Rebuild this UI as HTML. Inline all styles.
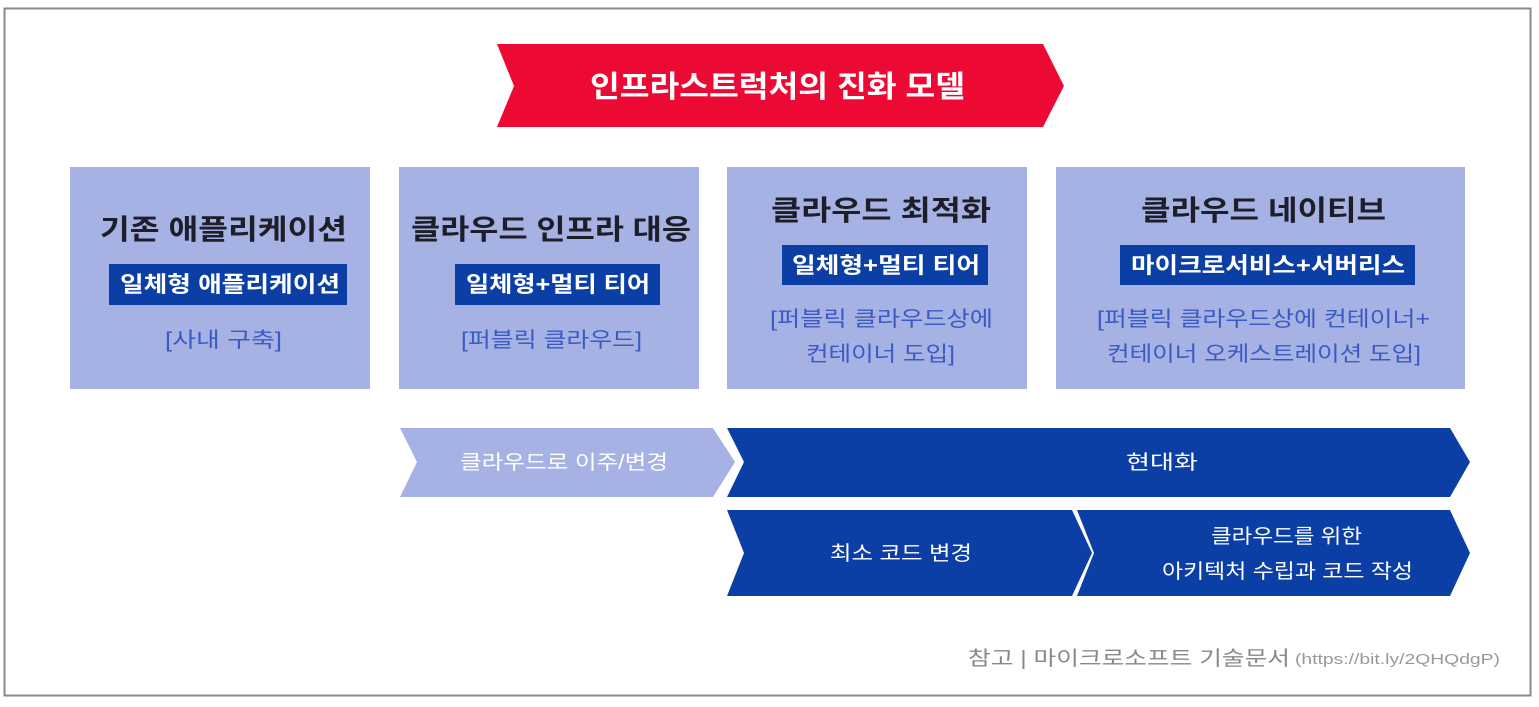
<!DOCTYPE html>
<html><head><meta charset="utf-8"><style>
html,body{margin:0;padding:0;background:#fff;}
svg{display:block;}
text{font-family:"Liberation Sans","Noto Sans CJK KR","NanumGothic",sans-serif;}
</style></head><body>
<svg width="1539" height="707" viewBox="0 0 1539 707" xmlns="http://www.w3.org/2000/svg">
<rect x="0" y="0" width="1539" height="707" fill="#fff"/>
<rect x="4.5" y="8.5" width="1526" height="687" fill="#fff" stroke="#8a8a8a" stroke-width="2"/>
<polygon points="497,44 1043,44 1064,86 1043,127 497,127 514,86" fill="#ec0a35"/>
<text x="590" y="97" font-size="30" font-weight="bold" fill="#fff" textLength="375" lengthAdjust="spacingAndGlyphs">인프라스트럭처의 진화 모델</text>

<g fill="#a6b1e4">
<rect x="70" y="167" width="300" height="222"/>
<rect x="399" y="167" width="300" height="222"/>
<rect x="727" y="167" width="300" height="222"/>
<rect x="1056" y="167" width="409" height="222"/>
</g>
<g font-size="28" font-weight="bold" fill="#1e1e28" lengthAdjust="spacingAndGlyphs">
<text x="100" y="239" textLength="247" lengthAdjust="spacingAndGlyphs">기존 애플리케이션</text>
<text x="411" y="239" textLength="280" lengthAdjust="spacingAndGlyphs">클라우드 인프라 대응</text>
<text x="771" y="220" textLength="220" lengthAdjust="spacingAndGlyphs">클라우드 최적화</text>
<text x="1141" y="220" textLength="245" lengthAdjust="spacingAndGlyphs">클라우드 네이티브</text>
</g>
<g fill="#0b3fa6">
<rect x="109" y="264" width="238" height="41"/>
<rect x="455" y="264" width="205" height="41"/>
<rect x="782" y="245" width="206" height="40"/>
<rect x="1120" y="245" width="295" height="40"/>
</g>
<g font-size="22" font-weight="bold" fill="#fff">
<text x="120" y="292" textLength="220" lengthAdjust="spacingAndGlyphs">일체형 애플리케이션</text>
<text x="466" y="292" textLength="184" lengthAdjust="spacingAndGlyphs">일체형+멀티 티어</text>
<text x="792" y="273" textLength="188" lengthAdjust="spacingAndGlyphs">일체형+멀티 티어</text>
<text x="1131" y="273" textLength="274" lengthAdjust="spacingAndGlyphs">마이크로서비스+서버리스</text>
</g>
<g font-size="21" fill="#3a5bc2">
<text x="165" y="347" textLength="117" lengthAdjust="spacingAndGlyphs">[사내 구축]</text>
<text x="461" y="347" textLength="181" lengthAdjust="spacingAndGlyphs">[퍼블릭 클라우드]</text>
<text x="770" y="326" textLength="223" lengthAdjust="spacingAndGlyphs">[퍼블릭 클라우드상에</text>
<text x="806" y="361" textLength="149" lengthAdjust="spacingAndGlyphs">컨테이너 도입]</text>
<text x="1097" y="326" textLength="333" lengthAdjust="spacingAndGlyphs">[퍼블릭 클라우드상에 컨테이너+</text>
<text x="1107" y="361" textLength="314" lengthAdjust="spacingAndGlyphs">컨테이너 오케스트레이션 도입]</text>
</g>

<polygon points="400,428 713,428 735,462 713,497 400,497 417,462" fill="#a6b1e4"/>
<polygon points="727,428 1450,428 1470,462 1450,497 727,497 744,462" fill="#0b3fa6"/>
<polygon points="727,510 1072,510 1092,553 1072,596 727,596 744,553" fill="#0b3fa6"/>
<polygon points="1077,510 1450,510 1470,553 1450,596 1077,596 1094,553" fill="#0b3fa6"/>
<g font-size="20" fill="#fff">
<text x="460" y="469" textLength="208" lengthAdjust="spacingAndGlyphs">클라우드로 이주/변경</text>
<text x="1126" y="469" textLength="72" lengthAdjust="spacingAndGlyphs">현대화</text>
<text x="830" y="560" textLength="142" lengthAdjust="spacingAndGlyphs">최소 코드 변경</text>
<text x="1211" y="543" textLength="151" lengthAdjust="spacingAndGlyphs">클라우드를 위한</text>
<text x="1162" y="578" textLength="251" lengthAdjust="spacingAndGlyphs">아키텍처 수립과 코드 작성</text>
</g>
<text x="968" y="665" font-size="20" fill="#888" textLength="322" lengthAdjust="spacingAndGlyphs">참고 | 마이크로소프트 기술문서</text>
<text x="1295" y="664" font-size="15" fill="#999" textLength="205" lengthAdjust="spacingAndGlyphs">(https://bit.ly/2QHQdgP)</text>
</svg>
</body></html>
